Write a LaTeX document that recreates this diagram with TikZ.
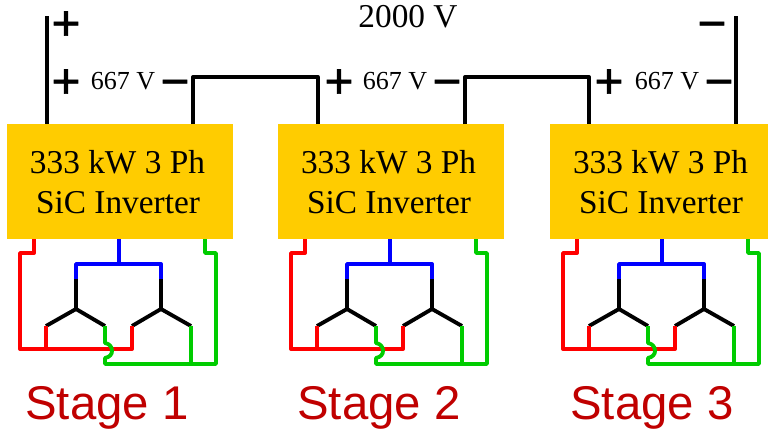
\documentclass[tikz,border=0pt]{standalone}
\usepackage{fontspec}
\setmainfont{Liberation Serif}
\newfontfamily\sansf{Liberation Sans}
\newfontfamily\signf[FakeBold=1.2]{Liberation Sans}
\definecolor{invy}{HTML}{FFCC00}
\definecolor{stagered}{HTML}{C00000}
\definecolor{wred}{HTML}{FF0000}
\definecolor{wgreen}{HTML}{00CC00}
\definecolor{wblue}{HTML}{0000FF}
\tikzset{
 x=0.75pt,y=-0.75pt,
 wire/.style={line width=2.5pt,line join=round},
 mwire/.style={line width=2.9pt,line join=round},
 invbox/.style={fill=invy,draw=none,minimum width=169.5pt,minimum height=86.25pt,inner sep=0pt,anchor=north west},
 invtxt/.style={font=\fontsize{25}{28}\selectfont,inner sep=0pt},
 volt/.style={font=\fontsize{19.5}{22}\selectfont,inner sep=0pt},
 sign/.style={font=\signf\fontsize{37}{40}\selectfont,inner sep=0pt,anchor=base},
 stagetxt/.style={font=\sansf\fontsize{35.5}{40}\selectfont,text=stagered,inner sep=0pt},
}
\begin{document}
\begin{tikzpicture}
\path[use as bounding box,clip] (0,0) rectangle (768,433);
\fill[white] (0,0) rectangle (768,433);
\foreach \n/\dx/\st/\sx in {1/0/1/107,2/271/2/108,3/543/3/109}{
\begin{scope}[xshift=\dx*0.75pt]
 \node[invbox] (inv\n) at (7,124) {};
 \node[invtxt] (inva\n) at (117.5,162) {333 kW 3 Ph};
 \node[invtxt] (invb\n) at (118,203) {SiC Inverter};
 \node[stagetxt] (stage\n) at (\sx,408) {Stage \st};
 \coordinate (ra\n) at (34,239); \coordinate (bl\n) at (119,239); \coordinate (gr\n) at (205,239);
 \coordinate (sa\n) at (76,309); \coordinate (sb\n) at (161,309);
 \coordinate (la\n) at (46,326); \coordinate (ma\n) at (105,326);
 \coordinate (lb\n) at (132,326); \coordinate (mb\n) at (191,326);
 \draw[mwire,black] (la\n) -- (sa\n) -- (ma\n);
 \draw[mwire,black] (lb\n) -- (sb\n) -- (mb\n);
 \draw[mwire,black] (76,279) -- (sa\n);
 \draw[mwire,black] (161,279) -- (sb\n);
 \draw[mwire,wblue] (bl\n) -- (119,264);
 \draw[mwire,wblue] (76,279) -- (76,264) -- (161,264) -- (161,279);
 \draw[mwire,wred] (ra\n) -- (34,253) -- (20,253) -- (20,349) -- (132,349) -- (lb\n);
 \draw[mwire,wred] (46,349) -- (la\n);
 \draw[mwire,wgreen] (gr\n) -- (205,253) -- (216,253) -- (216,364) -- (105,364) -- (105,358)
   .. controls (110,357) and (112,354) .. (112,351)
   .. controls (112,347) and (110,344) .. (105,343) -- (ma\n);
 \draw[mwire,wgreen] (191,364) -- (mb\n);
\end{scope}
}
\coordinate (tl) at (47,16);
\coordinate (tr) at (736,16);
\draw[wire] (tl) -- (47,124);
\draw[wire] (tr) -- (736,124);
\draw[wire] (193,124) -- (193,77) -- (318,77) -- (318,124);
\draw[wire] (465,124) -- (465,77) -- (589,77) -- (589,124);
\node[sign] (pt) at (66,40) {+};
\node[sign] (mt) at (712,40) {−};
\node[sign] (p1) at (66,98) {+};
\node[sign] (m1) at (175,98) {−};
\node[sign] (p2) at (339,98) {+};
\node[sign] (m2) at (447,98) {−};
\node[sign] (p3) at (609,98) {+};
\node[sign] (m3) at (719,98) {−};
\node[volt] (v1) at (123,81) {667 V};
\node[volt] (v2) at (395,81) {667 V};
\node[volt] (v3) at (667,81) {667 V};
\node[inner sep=0pt,font=\fontsize{25}{28}\selectfont] (vt) at (408,17) {2000 V};
\end{tikzpicture}
\end{document}
